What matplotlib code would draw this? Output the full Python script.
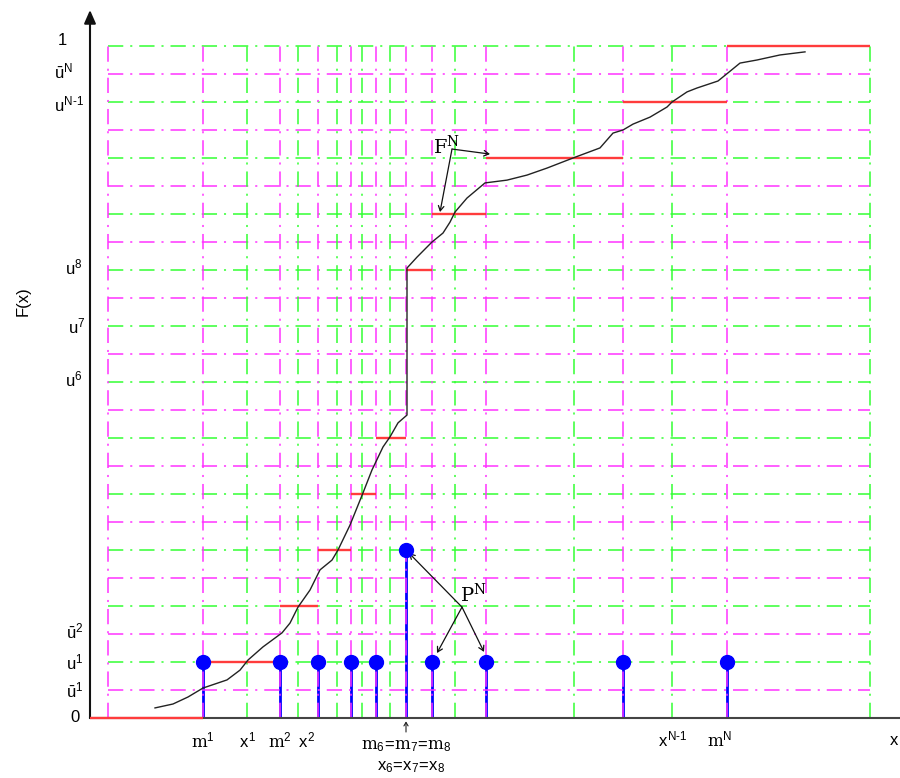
import matplotlib
matplotlib.use("Agg")
import matplotlib.pyplot as plt

plt.rcParams['font.family'] = ['Liberation Sans', 'DejaVu Sans']
plt.rcParams['mathtext.fontset'] = 'custom'
plt.rcParams['mathtext.rm'] = 'Liberation Sans'
plt.rcParams['mathtext.it'] = 'Liberation Sans'
plt.rcParams['mathtext.tt'] = 'DejaVu Serif'
plt.rcParams['lines.scale_dashes'] = False

# x in plot units (0 = y axis), y in grid levels (24 = F(x) of 1)
m_pos = [113, 190, 228, 261, 286, 316, 342, 396, 533, 637]
m_height = [2, 2, 2, 2, 2, 6, 2, 2, 2, 2]
x_pos = [157, 208, 247, 272, 300, 365, 484, 582, 780]
left_edge = 18
step_edges = [0, 113, 190, 228, 261, 286, 316, 342, 396, 533, 637, 780]
step_levels = [0, 2, 4, 6, 8, 10, 16, 18, 20, 22, 24]
grid_levels = list(range(1, 25))

curve_x = [65, 83, 98, 113, 137, 150, 158, 173, 192, 200, 208, 220, 230, 242,
           248, 260, 273, 282, 293, 300, 308, 317, 317, 327, 342, 353, 360,
           365, 377, 395, 417, 437, 457, 483, 510, 523, 533, 543, 560, 577,
           582, 597, 607, 628, 638, 650, 667, 690, 715]
curve_y = [0.36, 0.50, 0.75, 1.07, 1.36, 1.71, 2.07, 2.54, 3.04, 3.39, 3.96,
           4.57, 5.29, 5.64, 6.00, 6.89, 8.04, 8.86, 9.68, 10.04, 10.54,
           10.82, 16.07, 16.46, 17.00, 17.32, 17.71, 18.07, 18.57, 19.11,
           19.21, 19.39, 19.64, 20.00, 20.36, 20.89, 21.00, 21.21, 21.46,
           21.82, 22.00, 22.36, 22.50, 22.75, 23.04, 23.39, 23.50, 23.68,
           23.79]

ytick_levels = [24, 23, 22, 16, 14, 12, 3, 2, 1, 0]
ytick_labels = ['1', r'$\bar{u}^{N}$', r'$u^{N\text{-}1}$', r'$u^{8}$', r'$u^{7}$',
                r'$u^{6}$', r'$\bar{u}^{2}$', r'$u^{1}$', r'$\bar{u}^{1}$', '0']
ytick_x = [-32, -36, -36, -25, -22, -25, -24, -24, -24, -20]
ytick_dy = [0.2, 0.1, -0.1, 0.1, 0.0, 0.1, 0.1, 0.0, 0.0, 0.0]

green = '#33ff33'
magenta = '#ff33ff'
dashdot = (0, (11, 5, 1.5, 5))

fig = plt.figure(figsize=(9, 7.78), dpi=100)
ax = fig.add_axes([0.1, 60 / 778, 0.9, 708 / 778])
ax.set_xlim(0, 810)
ax.set_ylim(0, 708 / 28)
ax.axis('off')

# stems under the grid
ax.vlines(m_pos, 0, m_height, color='blue', lw=2.0, zorder=1)

# grid
for lev in grid_levels:
    c = magenta if lev % 2 else green
    ax.plot([left_edge, x_pos[-1]], [lev, lev], color=c, lw=1.1,
            linestyle=dashdot, zorder=2)
for xv in [left_edge] + m_pos:
    ax.plot([xv, xv], [0, 24], color=magenta, lw=1.1, linestyle=dashdot, zorder=2)
for xv in x_pos:
    ax.plot([xv, xv], [0, 24], color=green, lw=1.1, linestyle=dashdot, zorder=2)

# axes
ax.plot([0, 810], [0, 0], color='#444444', lw=1.5, clip_on=False, zorder=3)
ax.annotate('', xy=(0, 708 / 28), xytext=(0, 0), annotation_clip=False,
            arrowprops=dict(arrowstyle='-|>,head_length=0.8,head_width=0.35',
                            color='#111111', lw=1.5, shrinkA=0, shrinkB=0))

# steps, curve, points
ax.hlines(step_levels, step_edges[:-1], step_edges[1:], color='#ff3c3c',
          lw=1.7, zorder=4, clip_on=False)
ax.plot(curve_x, curve_y, color='#222222', lw=1.0, zorder=5)
ax.plot(m_pos, m_height, 'o', color='blue', ms=10, zorder=6)

# y labels
for yv, lab, xv, dy in zip(ytick_levels, ytick_labels, ytick_x, ytick_dy):
    ax.text(xv, yv + dy, lab, ha='left', va='center', fontsize=12, clip_on=False)
ax.text(-67, 14.9, 'F(x)', rotation=90, ha='center', va='center', fontsize=12)

# x labels
fs = 12
ax.text(113, -0.8, r'$\mathtt{m}^1$', ha='center', va='center', fontsize=fs)
ax.text(157, -0.8, r'$x^1$', ha='center', va='center', fontsize=fs)
ax.text(190, -0.8, r'$\mathtt{m}^2$', ha='center', va='center', fontsize=fs)
ax.text(208, -0.8, r'$x^2$', ha='left', va='center', fontsize=fs)
ax.text(316, -1.0, r'$\mathtt{m}_6\!=\!\mathtt{m}_7\!=\!\mathtt{m}_8$',
        ha='center', va='center', fontsize=fs)
ax.text(321, -1.75, r'$x_6\!=\!x_7\!=\!x_8$', ha='center', va='center', fontsize=fs)
ax.annotate('', xy=(316, -0.12), xytext=(316, -0.5), annotation_clip=False,
            arrowprops=dict(arrowstyle='->,head_length=0.25,head_width=0.15',
                            color='#222222', lw=0.8, shrinkA=0, shrinkB=0))
ax.text(583, -0.75, r'$x^{N\text{-}1}$', ha='center', va='center', fontsize=fs)
ax.text(630, -0.75, r'$\mathtt{m}^N$', ha='center', va='center', fontsize=fs)
ax.text(804, -0.8, 'x', ha='center', va='center', fontsize=fs)

# annotations
arrow = dict(arrowstyle='->,head_length=0.35,head_width=0.2', color='#111111',
             lw=0.9, shrinkA=0, shrinkB=0)
ax.text(343, 20.14, r'$\mathtt{F}^{\mathtt{N}}$', ha='left', va='baseline',
        fontsize=14)
ax.annotate('', xy=(350, 18.07), xytext=(362, 20.32), arrowprops=arrow)
ax.annotate('', xy=(400, 20.14), xytext=(362, 20.32), arrowprops=arrow)

ax.text(370, 4.14, r'$\mathtt{P}^{\mathtt{N}}$', ha='left', va='baseline',
        fontsize=14)
ax.annotate('', xy=(319, 5.89), xytext=(372, 3.96), arrowprops=arrow)
ax.annotate('', xy=(347, 2.32), xytext=(372, 3.96), arrowprops=arrow)
ax.annotate('', xy=(394, 2.36), xytext=(372, 3.96), arrowprops=arrow)

fig.savefig('out.png', dpi=100)
